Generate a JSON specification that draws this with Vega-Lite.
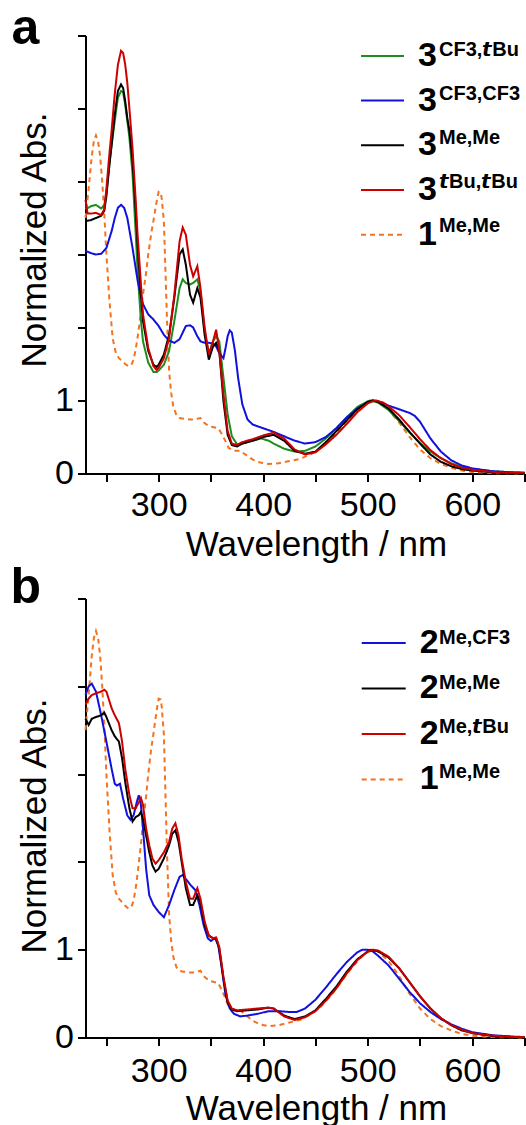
{
  "$schema": "https://vega.github.io/schema/vega-lite/v6.json",
  "background": "white",
  "padding": {"left": 10.5, "top": 3.5, "right": 0, "bottom": 0},
  "bounds": "flush",
  "spacing": 125,
  "config": {
    "font": "Liberation Sans",
    "view": {"stroke": null},
    "axis": {"domainColor": "#000", "domainWidth": 2, "tickColor": "#000", "tickWidth": 2, "tickSize": 8, "grid": false, "labelFont": "Liberation Sans", "labelFontSize": 34, "labelColor": "#000", "titleFont": "Liberation Sans", "titleFontSize": 35, "titleFontWeight": "normal", "titleColor": "#000", "labelOverlap": false, "labelFlush": false}
  },
  "resolve": {
    "scale": {"color": "independent", "strokeDash": "independent", "shape": "independent"},
    "legend": {"color": "independent", "strokeDash": "independent", "shape": "independent"}
  },
  "datasets": {
    "a": [
      {"series":"3CF3,tBu","nm":230,"abs":3.62},{"series":"3CF3,tBu","nm":235,"abs":3.66},{"series":"3CF3,tBu","nm":240,"abs":3.68},{"series":"3CF3,tBu","nm":245,"abs":3.63},{"series":"3CF3,tBu","nm":248,"abs":3.68},{"series":"3CF3,tBu","nm":250,"abs":3.85},{"series":"3CF3,tBu","nm":253,"abs":4.25},{"series":"3CF3,tBu","nm":255,"abs":4.5},{"series":"3CF3,tBu","nm":258,"abs":4.83},{"series":"3CF3,tBu","nm":261,"abs":5.15},{"series":"3CF3,tBu","nm":264,"abs":5.24},{"series":"3CF3,tBu","nm":266,"abs":5.22},{"series":"3CF3,tBu","nm":268,"abs":5.05},{"series":"3CF3,tBu","nm":270,"abs":4.83},{"series":"3CF3,tBu","nm":272,"abs":4.6},{"series":"3CF3,tBu","nm":275,"abs":4.1},{"series":"3CF3,tBu","nm":278,"abs":3.3},{"series":"3CF3,tBu","nm":280,"abs":2.73},{"series":"3CF3,tBu","nm":283,"abs":2.1},{"series":"3CF3,tBu","nm":285,"abs":1.81},{"series":"3CF3,tBu","nm":290,"abs":1.52},{"series":"3CF3,tBu","nm":295,"abs":1.39},{"series":"3CF3,tBu","nm":298,"abs":1.39},{"series":"3CF3,tBu","nm":300,"abs":1.41},{"series":"3CF3,tBu","nm":305,"abs":1.49},{"series":"3CF3,tBu","nm":310,"abs":1.68},{"series":"3CF3,tBu","nm":315,"abs":2.09},{"series":"3CF3,tBu","nm":320,"abs":2.54},{"series":"3CF3,tBu","nm":323,"abs":2.66},{"series":"3CF3,tBu","nm":326,"abs":2.61},{"series":"3CF3,tBu","nm":330,"abs":2.59},{"series":"3CF3,tBu","nm":333,"abs":2.61},{"series":"3CF3,tBu","nm":337,"abs":2.66},{"series":"3CF3,tBu","nm":340,"abs":2.5},{"series":"3CF3,tBu","nm":344,"abs":1.95},{"series":"3CF3,tBu","nm":348,"abs":1.63},{"series":"3CF3,tBu","nm":352,"abs":1.81},{"series":"3CF3,tBu","nm":355,"abs":1.88},{"series":"3CF3,tBu","nm":358,"abs":1.81},{"series":"3CF3,tBu","nm":362,"abs":1.31},{"series":"3CF3,tBu","nm":366,"abs":0.81},{"series":"3CF3,tBu","nm":370,"abs":0.51},{"series":"3CF3,tBu","nm":375,"abs":0.4},{"series":"3CF3,tBu","nm":380,"abs":0.41},{"series":"3CF3,tBu","nm":390,"abs":0.45},{"series":"3CF3,tBu","nm":398,"abs":0.48},{"series":"3CF3,tBu","nm":405,"abs":0.45},{"series":"3CF3,tBu","nm":410,"abs":0.41},{"series":"3CF3,tBu","nm":420,"abs":0.34},{"series":"3CF3,tBu","nm":430,"abs":0.3},{"series":"3CF3,tBu","nm":440,"abs":0.31},{"series":"3CF3,tBu","nm":450,"abs":0.37},{"series":"3CF3,tBu","nm":460,"abs":0.48},{"series":"3CF3,tBu","nm":470,"abs":0.62},{"series":"3CF3,tBu","nm":480,"abs":0.77},{"series":"3CF3,tBu","nm":490,"abs":0.91},{"series":"3CF3,tBu","nm":500,"abs":0.99},{"series":"3CF3,tBu","nm":503,"abs":1.0},{"series":"3CF3,tBu","nm":510,"abs":0.97},{"series":"3CF3,tBu","nm":520,"abs":0.87},{"series":"3CF3,tBu","nm":530,"abs":0.72},{"series":"3CF3,tBu","nm":540,"abs":0.56},{"series":"3CF3,tBu","nm":550,"abs":0.42},{"series":"3CF3,tBu","nm":560,"abs":0.3},{"series":"3CF3,tBu","nm":570,"abs":0.21},{"series":"3CF3,tBu","nm":580,"abs":0.14},{"series":"3CF3,tBu","nm":590,"abs":0.09},{"series":"3CF3,tBu","nm":600,"abs":0.06},{"series":"3CF3,tBu","nm":620,"abs":0.03},{"series":"3CF3,tBu","nm":640,"abs":0.015},{"series":"3CF3,tBu","nm":650,"abs":0.01},
      {"series":"3CF3,CF3","nm":230,"abs":3.05},{"series":"3CF3,CF3","nm":235,"abs":3.02},{"series":"3CF3,CF3","nm":240,"abs":3.0},{"series":"3CF3,CF3","nm":245,"abs":3.01},{"series":"3CF3,CF3","nm":250,"abs":3.09},{"series":"3CF3,CF3","nm":255,"abs":3.32},{"series":"3CF3,CF3","nm":258,"abs":3.5},{"series":"3CF3,CF3","nm":261,"abs":3.64},{"series":"3CF3,CF3","nm":264,"abs":3.68},{"series":"3CF3,CF3","nm":267,"abs":3.64},{"series":"3CF3,CF3","nm":270,"abs":3.5},{"series":"3CF3,CF3","nm":275,"abs":3.09},{"series":"3CF3,CF3","nm":280,"abs":2.63},{"series":"3CF3,CF3","nm":285,"abs":2.32},{"series":"3CF3,CF3","nm":290,"abs":2.18},{"series":"3CF3,CF3","nm":295,"abs":2.11},{"series":"3CF3,CF3","nm":300,"abs":2.02},{"series":"3CF3,CF3","nm":305,"abs":1.9},{"series":"3CF3,CF3","nm":310,"abs":1.82},{"series":"3CF3,CF3","nm":315,"abs":1.79},{"series":"3CF3,CF3","nm":320,"abs":1.84},{"series":"3CF3,CF3","nm":323,"abs":1.93},{"series":"3CF3,CF3","nm":326,"abs":2.02},{"series":"3CF3,CF3","nm":330,"abs":2.03},{"series":"3CF3,CF3","nm":333,"abs":2.0},{"series":"3CF3,CF3","nm":337,"abs":1.88},{"series":"3CF3,CF3","nm":340,"abs":1.81},{"series":"3CF3,CF3","nm":344,"abs":1.79},{"series":"3CF3,CF3","nm":348,"abs":1.79},{"series":"3CF3,CF3","nm":352,"abs":1.78},{"series":"3CF3,CF3","nm":355,"abs":1.74},{"series":"3CF3,CF3","nm":358,"abs":1.65},{"series":"3CF3,CF3","nm":362,"abs":1.58},{"series":"3CF3,CF3","nm":364,"abs":1.72},{"series":"3CF3,CF3","nm":366,"abs":1.88},{"series":"3CF3,CF3","nm":368,"abs":1.96},{"series":"3CF3,CF3","nm":370,"abs":1.93},{"series":"3CF3,CF3","nm":373,"abs":1.68},{"series":"3CF3,CF3","nm":376,"abs":1.31},{"series":"3CF3,CF3","nm":380,"abs":0.95},{"series":"3CF3,CF3","nm":385,"abs":0.74},{"series":"3CF3,CF3","nm":390,"abs":0.67},{"series":"3CF3,CF3","nm":400,"abs":0.62},{"series":"3CF3,CF3","nm":410,"abs":0.57},{"series":"3CF3,CF3","nm":420,"abs":0.51},{"series":"3CF3,CF3","nm":430,"abs":0.45},{"series":"3CF3,CF3","nm":440,"abs":0.41},{"series":"3CF3,CF3","nm":450,"abs":0.43},{"series":"3CF3,CF3","nm":460,"abs":0.5},{"series":"3CF3,CF3","nm":470,"abs":0.62},{"series":"3CF3,CF3","nm":480,"abs":0.77},{"series":"3CF3,CF3","nm":490,"abs":0.89},{"series":"3CF3,CF3","nm":500,"abs":0.97},{"series":"3CF3,CF3","nm":505,"abs":1.0},{"series":"3CF3,CF3","nm":510,"abs":0.99},{"series":"3CF3,CF3","nm":520,"abs":0.93},{"series":"3CF3,CF3","nm":530,"abs":0.88},{"series":"3CF3,CF3","nm":540,"abs":0.83},{"series":"3CF3,CF3","nm":545,"abs":0.79},{"series":"3CF3,CF3","nm":550,"abs":0.71},{"series":"3CF3,CF3","nm":560,"abs":0.48},{"series":"3CF3,CF3","nm":570,"abs":0.3},{"series":"3CF3,CF3","nm":580,"abs":0.18},{"series":"3CF3,CF3","nm":590,"abs":0.11},{"series":"3CF3,CF3","nm":600,"abs":0.07},{"series":"3CF3,CF3","nm":620,"abs":0.03},{"series":"3CF3,CF3","nm":640,"abs":0.015},{"series":"3CF3,CF3","nm":650,"abs":0.01},
      {"series":"3Me,Me","nm":230,"abs":3.46},{"series":"3Me,Me","nm":235,"abs":3.47},{"series":"3Me,Me","nm":240,"abs":3.5},{"series":"3Me,Me","nm":245,"abs":3.53},{"series":"3Me,Me","nm":248,"abs":3.6},{"series":"3Me,Me","nm":250,"abs":3.8},{"series":"3Me,Me","nm":253,"abs":4.25},{"series":"3Me,Me","nm":255,"abs":4.5},{"series":"3Me,Me","nm":258,"abs":4.92},{"series":"3Me,Me","nm":261,"abs":5.24},{"series":"3Me,Me","nm":264,"abs":5.33},{"series":"3Me,Me","nm":266,"abs":5.28},{"series":"3Me,Me","nm":268,"abs":5.1},{"series":"3Me,Me","nm":270,"abs":4.87},{"series":"3Me,Me","nm":272,"abs":4.7},{"series":"3Me,Me","nm":275,"abs":4.28},{"series":"3Me,Me","nm":278,"abs":3.6},{"series":"3Me,Me","nm":280,"abs":3.09},{"series":"3Me,Me","nm":283,"abs":2.45},{"series":"3Me,Me","nm":285,"abs":2.09},{"series":"3Me,Me","nm":290,"abs":1.68},{"series":"3Me,Me","nm":295,"abs":1.49},{"series":"3Me,Me","nm":298,"abs":1.46},{"series":"3Me,Me","nm":300,"abs":1.49},{"series":"3Me,Me","nm":305,"abs":1.63},{"series":"3Me,Me","nm":310,"abs":1.9},{"series":"3Me,Me","nm":315,"abs":2.41},{"series":"3Me,Me","nm":320,"abs":3.0},{"series":"3Me,Me","nm":323,"abs":3.07},{"series":"3Me,Me","nm":326,"abs":2.86},{"series":"3Me,Me","nm":330,"abs":2.45},{"series":"3Me,Me","nm":333,"abs":2.34},{"series":"3Me,Me","nm":337,"abs":2.54},{"series":"3Me,Me","nm":340,"abs":2.41},{"series":"3Me,Me","nm":344,"abs":1.9},{"series":"3Me,Me","nm":348,"abs":1.56},{"series":"3Me,Me","nm":352,"abs":1.74},{"series":"3Me,Me","nm":355,"abs":1.79},{"series":"3Me,Me","nm":358,"abs":1.68},{"series":"3Me,Me","nm":362,"abs":0.99},{"series":"3Me,Me","nm":366,"abs":0.53},{"series":"3Me,Me","nm":370,"abs":0.39},{"series":"3Me,Me","nm":375,"abs":0.37},{"series":"3Me,Me","nm":380,"abs":0.41},{"series":"3Me,Me","nm":390,"abs":0.45},{"series":"3Me,Me","nm":400,"abs":0.5},{"series":"3Me,Me","nm":410,"abs":0.53},{"series":"3Me,Me","nm":420,"abs":0.45},{"series":"3Me,Me","nm":430,"abs":0.31},{"series":"3Me,Me","nm":440,"abs":0.27},{"series":"3Me,Me","nm":450,"abs":0.3},{"series":"3Me,Me","nm":460,"abs":0.43},{"series":"3Me,Me","nm":470,"abs":0.58},{"series":"3Me,Me","nm":480,"abs":0.73},{"series":"3Me,Me","nm":490,"abs":0.88},{"series":"3Me,Me","nm":500,"abs":0.98},{"series":"3Me,Me","nm":505,"abs":1.0},{"series":"3Me,Me","nm":510,"abs":0.98},{"series":"3Me,Me","nm":520,"abs":0.89},{"series":"3Me,Me","nm":530,"abs":0.74},{"series":"3Me,Me","nm":540,"abs":0.57},{"series":"3Me,Me","nm":550,"abs":0.41},{"series":"3Me,Me","nm":560,"abs":0.26},{"series":"3Me,Me","nm":570,"abs":0.16},{"series":"3Me,Me","nm":580,"abs":0.1},{"series":"3Me,Me","nm":590,"abs":0.06},{"series":"3Me,Me","nm":600,"abs":0.04},{"series":"3Me,Me","nm":620,"abs":0.015},{"series":"3Me,Me","nm":640,"abs":0.005},{"series":"3Me,Me","nm":650,"abs":0.005},
      {"series":"3tBu,tBu","nm":230,"abs":3.75},{"series":"3tBu,tBu","nm":232,"abs":3.56},{"series":"3tBu,tBu","nm":235,"abs":3.56},{"series":"3tBu,tBu","nm":240,"abs":3.57},{"series":"3tBu,tBu","nm":245,"abs":3.54},{"series":"3tBu,tBu","nm":248,"abs":3.62},{"series":"3tBu,tBu","nm":250,"abs":3.9},{"series":"3tBu,tBu","nm":253,"abs":4.4},{"series":"3tBu,tBu","nm":255,"abs":4.7},{"series":"3tBu,tBu","nm":258,"abs":5.2},{"series":"3tBu,tBu","nm":261,"abs":5.6},{"series":"3tBu,tBu","nm":264,"abs":5.79},{"series":"3tBu,tBu","nm":266,"abs":5.76},{"series":"3tBu,tBu","nm":268,"abs":5.6},{"series":"3tBu,tBu","nm":270,"abs":5.35},{"series":"3tBu,tBu","nm":272,"abs":5.0},{"series":"3tBu,tBu","nm":275,"abs":4.45},{"series":"3tBu,tBu","nm":278,"abs":3.75},{"series":"3tBu,tBu","nm":280,"abs":3.23},{"series":"3tBu,tBu","nm":283,"abs":2.6},{"series":"3tBu,tBu","nm":285,"abs":2.18},{"series":"3tBu,tBu","nm":290,"abs":1.72},{"series":"3tBu,tBu","nm":295,"abs":1.47},{"series":"3tBu,tBu","nm":298,"abs":1.42},{"series":"3tBu,tBu","nm":300,"abs":1.45},{"series":"3tBu,tBu","nm":305,"abs":1.58},{"series":"3tBu,tBu","nm":310,"abs":1.86},{"series":"3tBu,tBu","nm":315,"abs":2.45},{"series":"3tBu,tBu","nm":320,"abs":3.18},{"series":"3tBu,tBu","nm":323,"abs":3.37},{"series":"3tBu,tBu","nm":326,"abs":3.27},{"series":"3tBu,tBu","nm":330,"abs":2.86},{"series":"3tBu,tBu","nm":333,"abs":2.7},{"series":"3tBu,tBu","nm":337,"abs":2.84},{"series":"3tBu,tBu","nm":340,"abs":2.54},{"series":"3tBu,tBu","nm":344,"abs":2.0},{"series":"3tBu,tBu","nm":348,"abs":1.63},{"series":"3tBu,tBu","nm":352,"abs":1.81},{"series":"3tBu,tBu","nm":355,"abs":1.97},{"series":"3tBu,tBu","nm":358,"abs":1.68},{"series":"3tBu,tBu","nm":362,"abs":1.08},{"series":"3tBu,tBu","nm":366,"abs":0.58},{"series":"3tBu,tBu","nm":370,"abs":0.41},{"series":"3tBu,tBu","nm":375,"abs":0.39},{"series":"3tBu,tBu","nm":380,"abs":0.43},{"series":"3tBu,tBu","nm":390,"abs":0.47},{"series":"3tBu,tBu","nm":400,"abs":0.52},{"series":"3tBu,tBu","nm":410,"abs":0.56},{"series":"3tBu,tBu","nm":420,"abs":0.48},{"series":"3tBu,tBu","nm":430,"abs":0.33},{"series":"3tBu,tBu","nm":440,"abs":0.26},{"series":"3tBu,tBu","nm":450,"abs":0.29},{"series":"3tBu,tBu","nm":460,"abs":0.4},{"series":"3tBu,tBu","nm":470,"abs":0.53},{"series":"3tBu,tBu","nm":480,"abs":0.68},{"series":"3tBu,tBu","nm":490,"abs":0.84},{"series":"3tBu,tBu","nm":500,"abs":0.96},{"series":"3tBu,tBu","nm":505,"abs":0.99},{"series":"3tBu,tBu","nm":508,"abs":1.0},{"series":"3tBu,tBu","nm":515,"abs":0.97},{"series":"3tBu,tBu","nm":520,"abs":0.92},{"series":"3tBu,tBu","nm":530,"abs":0.8},{"series":"3tBu,tBu","nm":540,"abs":0.64},{"series":"3tBu,tBu","nm":550,"abs":0.47},{"series":"3tBu,tBu","nm":560,"abs":0.32},{"series":"3tBu,tBu","nm":570,"abs":0.21},{"series":"3tBu,tBu","nm":580,"abs":0.13},{"series":"3tBu,tBu","nm":590,"abs":0.08},{"series":"3tBu,tBu","nm":600,"abs":0.05},{"series":"3tBu,tBu","nm":620,"abs":0.02},{"series":"3tBu,tBu","nm":640,"abs":0.01},{"series":"3tBu,tBu","nm":650,"abs":0.01}
    ],
    "b": [
      {"series":"2Me,CF3","nm":230,"abs":3.9},{"series":"2Me,CF3","nm":233,"abs":4.0},{"series":"2Me,CF3","nm":236,"abs":4.03},{"series":"2Me,CF3","nm":240,"abs":3.94},{"series":"2Me,CF3","nm":245,"abs":3.67},{"series":"2Me,CF3","nm":250,"abs":3.37},{"series":"2Me,CF3","nm":255,"abs":3.06},{"series":"2Me,CF3","nm":258,"abs":2.89},{"series":"2Me,CF3","nm":260,"abs":2.87},{"series":"2Me,CF3","nm":263,"abs":2.89},{"series":"2Me,CF3","nm":266,"abs":2.72},{"series":"2Me,CF3","nm":270,"abs":2.53},{"series":"2Me,CF3","nm":273,"abs":2.48},{"series":"2Me,CF3","nm":276,"abs":2.53},{"series":"2Me,CF3","nm":279,"abs":2.68},{"series":"2Me,CF3","nm":281,"abs":2.76},{"series":"2Me,CF3","nm":283,"abs":2.65},{"series":"2Me,CF3","nm":285,"abs":2.38},{"series":"2Me,CF3","nm":288,"abs":1.92},{"series":"2Me,CF3","nm":291,"abs":1.62},{"series":"2Me,CF3","nm":295,"abs":1.51},{"series":"2Me,CF3","nm":300,"abs":1.43},{"series":"2Me,CF3","nm":305,"abs":1.37},{"series":"2Me,CF3","nm":310,"abs":1.51},{"series":"2Me,CF3","nm":315,"abs":1.68},{"series":"2Me,CF3","nm":320,"abs":1.83},{"series":"2Me,CF3","nm":323,"abs":1.85},{"series":"2Me,CF3","nm":327,"abs":1.79},{"series":"2Me,CF3","nm":331,"abs":1.73},{"series":"2Me,CF3","nm":335,"abs":1.68},{"series":"2Me,CF3","nm":339,"abs":1.51},{"series":"2Me,CF3","nm":343,"abs":1.28},{"series":"2Me,CF3","nm":347,"abs":1.13},{"series":"2Me,CF3","nm":350,"abs":1.1},{"series":"2Me,CF3","nm":354,"abs":1.13},{"series":"2Me,CF3","nm":357,"abs":1.05},{"series":"2Me,CF3","nm":360,"abs":0.82},{"series":"2Me,CF3","nm":364,"abs":0.48},{"series":"2Me,CF3","nm":368,"abs":0.33},{"series":"2Me,CF3","nm":372,"abs":0.27},{"series":"2Me,CF3","nm":378,"abs":0.24},{"series":"2Me,CF3","nm":385,"abs":0.25},{"series":"2Me,CF3","nm":395,"abs":0.27},{"series":"2Me,CF3","nm":405,"abs":0.3},{"series":"2Me,CF3","nm":415,"abs":0.3},{"series":"2Me,CF3","nm":425,"abs":0.29},{"series":"2Me,CF3","nm":432,"abs":0.29},{"series":"2Me,CF3","nm":440,"abs":0.33},{"series":"2Me,CF3","nm":450,"abs":0.43},{"series":"2Me,CF3","nm":460,"abs":0.57},{"series":"2Me,CF3","nm":470,"abs":0.72},{"series":"2Me,CF3","nm":480,"abs":0.86},{"series":"2Me,CF3","nm":490,"abs":0.97},{"series":"2Me,CF3","nm":495,"abs":1.0},{"series":"2Me,CF3","nm":500,"abs":1.0},{"series":"2Me,CF3","nm":505,"abs":0.98},{"series":"2Me,CF3","nm":510,"abs":0.93},{"series":"2Me,CF3","nm":520,"abs":0.82},{"series":"2Me,CF3","nm":530,"abs":0.67},{"series":"2Me,CF3","nm":540,"abs":0.52},{"series":"2Me,CF3","nm":550,"abs":0.39},{"series":"2Me,CF3","nm":560,"abs":0.29},{"series":"2Me,CF3","nm":570,"abs":0.21},{"series":"2Me,CF3","nm":580,"abs":0.15},{"series":"2Me,CF3","nm":590,"abs":0.1},{"series":"2Me,CF3","nm":600,"abs":0.06},{"series":"2Me,CF3","nm":620,"abs":0.025},{"series":"2Me,CF3","nm":640,"abs":0.01},{"series":"2Me,CF3","nm":650,"abs":0.005},
      {"series":"2Me,Me","nm":230,"abs":3.63},{"series":"2Me,Me","nm":233,"abs":3.56},{"series":"2Me,Me","nm":236,"abs":3.63},{"series":"2Me,Me","nm":240,"abs":3.65},{"series":"2Me,Me","nm":245,"abs":3.67},{"series":"2Me,Me","nm":248,"abs":3.7},{"series":"2Me,Me","nm":250,"abs":3.65},{"series":"2Me,Me","nm":255,"abs":3.5},{"series":"2Me,Me","nm":258,"abs":3.43},{"series":"2Me,Me","nm":262,"abs":3.37},{"series":"2Me,Me","nm":265,"abs":3.18},{"series":"2Me,Me","nm":268,"abs":2.91},{"series":"2Me,Me","nm":272,"abs":2.61},{"series":"2Me,Me","nm":275,"abs":2.46},{"series":"2Me,Me","nm":278,"abs":2.51},{"series":"2Me,Me","nm":281,"abs":2.53},{"series":"2Me,Me","nm":283,"abs":2.57},{"series":"2Me,Me","nm":285,"abs":2.49},{"series":"2Me,Me","nm":288,"abs":2.3},{"series":"2Me,Me","nm":291,"abs":2.11},{"series":"2Me,Me","nm":294,"abs":1.96},{"series":"2Me,Me","nm":297,"abs":1.89},{"series":"2Me,Me","nm":300,"abs":1.92},{"series":"2Me,Me","nm":305,"abs":2.04},{"series":"2Me,Me","nm":310,"abs":2.19},{"series":"2Me,Me","nm":313,"abs":2.32},{"series":"2Me,Me","nm":316,"abs":2.36},{"series":"2Me,Me","nm":319,"abs":2.23},{"series":"2Me,Me","nm":322,"abs":2.0},{"series":"2Me,Me","nm":326,"abs":1.7},{"series":"2Me,Me","nm":330,"abs":1.51},{"series":"2Me,Me","nm":333,"abs":1.51},{"series":"2Me,Me","nm":337,"abs":1.62},{"series":"2Me,Me","nm":340,"abs":1.54},{"series":"2Me,Me","nm":344,"abs":1.28},{"series":"2Me,Me","nm":348,"abs":1.16},{"series":"2Me,Me","nm":352,"abs":1.13},{"series":"2Me,Me","nm":355,"abs":1.13},{"series":"2Me,Me","nm":358,"abs":1.01},{"series":"2Me,Me","nm":362,"abs":0.67},{"series":"2Me,Me","nm":366,"abs":0.4},{"series":"2Me,Me","nm":370,"abs":0.32},{"series":"2Me,Me","nm":375,"abs":0.3},{"series":"2Me,Me","nm":385,"abs":0.31},{"series":"2Me,Me","nm":395,"abs":0.32},{"series":"2Me,Me","nm":405,"abs":0.34},{"series":"2Me,Me","nm":410,"abs":0.33},{"series":"2Me,Me","nm":420,"abs":0.25},{"series":"2Me,Me","nm":430,"abs":0.21},{"series":"2Me,Me","nm":440,"abs":0.24},{"series":"2Me,Me","nm":450,"abs":0.31},{"series":"2Me,Me","nm":460,"abs":0.44},{"series":"2Me,Me","nm":470,"abs":0.58},{"series":"2Me,Me","nm":480,"abs":0.75},{"series":"2Me,Me","nm":490,"abs":0.89},{"series":"2Me,Me","nm":500,"abs":0.98},{"series":"2Me,Me","nm":503,"abs":1.0},{"series":"2Me,Me","nm":510,"abs":0.98},{"series":"2Me,Me","nm":520,"abs":0.91},{"series":"2Me,Me","nm":530,"abs":0.79},{"series":"2Me,Me","nm":540,"abs":0.63},{"series":"2Me,Me","nm":550,"abs":0.47},{"series":"2Me,Me","nm":560,"abs":0.33},{"series":"2Me,Me","nm":570,"abs":0.22},{"series":"2Me,Me","nm":580,"abs":0.14},{"series":"2Me,Me","nm":590,"abs":0.08},{"series":"2Me,Me","nm":600,"abs":0.05},{"series":"2Me,Me","nm":620,"abs":0.015},{"series":"2Me,Me","nm":640,"abs":0.005},{"series":"2Me,Me","nm":650,"abs":0.005},
      {"series":"2Me,tBu","nm":230,"abs":3.79},{"series":"2Me,tBu","nm":233,"abs":3.86},{"series":"2Me,tBu","nm":236,"abs":3.9},{"series":"2Me,tBu","nm":240,"abs":3.92},{"series":"2Me,tBu","nm":245,"abs":3.94},{"series":"2Me,tBu","nm":248,"abs":3.96},{"series":"2Me,tBu","nm":250,"abs":3.94},{"series":"2Me,tBu","nm":255,"abs":3.75},{"series":"2Me,tBu","nm":258,"abs":3.67},{"series":"2Me,tBu","nm":262,"abs":3.58},{"series":"2Me,tBu","nm":265,"abs":3.37},{"series":"2Me,tBu","nm":268,"abs":3.06},{"series":"2Me,tBu","nm":272,"abs":2.76},{"series":"2Me,tBu","nm":275,"abs":2.61},{"series":"2Me,tBu","nm":278,"abs":2.61},{"series":"2Me,tBu","nm":281,"abs":2.68},{"series":"2Me,tBu","nm":283,"abs":2.73},{"series":"2Me,tBu","nm":285,"abs":2.65},{"series":"2Me,tBu","nm":288,"abs":2.38},{"series":"2Me,tBu","nm":291,"abs":2.19},{"series":"2Me,tBu","nm":294,"abs":2.04},{"series":"2Me,tBu","nm":297,"abs":1.98},{"series":"2Me,tBu","nm":300,"abs":2.02},{"series":"2Me,tBu","nm":305,"abs":2.11},{"series":"2Me,tBu","nm":310,"abs":2.23},{"series":"2Me,tBu","nm":313,"abs":2.38},{"series":"2Me,tBu","nm":316,"abs":2.44},{"series":"2Me,tBu","nm":319,"abs":2.3},{"series":"2Me,tBu","nm":322,"abs":2.04},{"series":"2Me,tBu","nm":326,"abs":1.77},{"series":"2Me,tBu","nm":330,"abs":1.58},{"series":"2Me,tBu","nm":333,"abs":1.58},{"series":"2Me,tBu","nm":337,"abs":1.7},{"series":"2Me,tBu","nm":340,"abs":1.58},{"series":"2Me,tBu","nm":344,"abs":1.32},{"series":"2Me,tBu","nm":348,"abs":1.16},{"series":"2Me,tBu","nm":352,"abs":1.13},{"series":"2Me,tBu","nm":355,"abs":1.14},{"series":"2Me,tBu","nm":358,"abs":1.03},{"series":"2Me,tBu","nm":362,"abs":0.69},{"series":"2Me,tBu","nm":366,"abs":0.42},{"series":"2Me,tBu","nm":370,"abs":0.33},{"series":"2Me,tBu","nm":375,"abs":0.31},{"series":"2Me,tBu","nm":385,"abs":0.32},{"series":"2Me,tBu","nm":395,"abs":0.33},{"series":"2Me,tBu","nm":405,"abs":0.34},{"series":"2Me,tBu","nm":410,"abs":0.33},{"series":"2Me,tBu","nm":420,"abs":0.24},{"series":"2Me,tBu","nm":430,"abs":0.2},{"series":"2Me,tBu","nm":440,"abs":0.23},{"series":"2Me,tBu","nm":450,"abs":0.3},{"series":"2Me,tBu","nm":460,"abs":0.42},{"series":"2Me,tBu","nm":470,"abs":0.56},{"series":"2Me,tBu","nm":480,"abs":0.73},{"series":"2Me,tBu","nm":490,"abs":0.88},{"series":"2Me,tBu","nm":500,"abs":0.98},{"series":"2Me,tBu","nm":505,"abs":1.0},{"series":"2Me,tBu","nm":510,"abs":0.99},{"series":"2Me,tBu","nm":520,"abs":0.92},{"series":"2Me,tBu","nm":530,"abs":0.79},{"series":"2Me,tBu","nm":540,"abs":0.63},{"series":"2Me,tBu","nm":550,"abs":0.47},{"series":"2Me,tBu","nm":560,"abs":0.33},{"series":"2Me,tBu","nm":570,"abs":0.22},{"series":"2Me,tBu","nm":580,"abs":0.14},{"series":"2Me,tBu","nm":590,"abs":0.09},{"series":"2Me,tBu","nm":600,"abs":0.05},{"series":"2Me,tBu","nm":620,"abs":0.02},{"series":"2Me,tBu","nm":640,"abs":0.005},{"series":"2Me,tBu","nm":650,"abs":0.005}
    ],
    "ref": [
      {"series":"1Me,Me","nm":230,"abs":3.5},{"series":"1Me,Me","nm":233,"abs":3.9},{"series":"1Me,Me","nm":236,"abs":4.35},{"series":"1Me,Me","nm":238,"abs":4.55},{"series":"1Me,Me","nm":240,"abs":4.63},{"series":"1Me,Me","nm":242,"abs":4.55},{"series":"1Me,Me","nm":244,"abs":4.35},{"series":"1Me,Me","nm":246,"abs":4.0},{"series":"1Me,Me","nm":248,"abs":3.55},{"series":"1Me,Me","nm":250,"abs":3.0},{"series":"1Me,Me","nm":253,"abs":2.35},{"series":"1Me,Me","nm":256,"abs":1.85},{"series":"1Me,Me","nm":259,"abs":1.65},{"series":"1Me,Me","nm":262,"abs":1.58},{"series":"1Me,Me","nm":265,"abs":1.54},{"series":"1Me,Me","nm":268,"abs":1.5},{"series":"1Me,Me","nm":271,"abs":1.47},{"series":"1Me,Me","nm":274,"abs":1.49},{"series":"1Me,Me","nm":276,"abs":1.56},{"series":"1Me,Me","nm":278,"abs":1.7},{"series":"1Me,Me","nm":280,"abs":1.88},{"series":"1Me,Me","nm":283,"abs":2.2},{"series":"1Me,Me","nm":285,"abs":2.45},{"series":"1Me,Me","nm":288,"abs":2.75},{"series":"1Me,Me","nm":290,"abs":3.0},{"series":"1Me,Me","nm":293,"abs":3.3},{"series":"1Me,Me","nm":295,"abs":3.46},{"series":"1Me,Me","nm":298,"abs":3.72},{"series":"1Me,Me","nm":300,"abs":3.86},{"series":"1Me,Me","nm":302,"abs":3.85},{"series":"1Me,Me","nm":303,"abs":3.76},{"series":"1Me,Me","nm":305,"abs":3.45},{"series":"1Me,Me","nm":306,"abs":3.0},{"series":"1Me,Me","nm":308,"abs":2.09},{"series":"1Me,Me","nm":310,"abs":1.4},{"series":"1Me,Me","nm":312,"abs":1.1},{"series":"1Me,Me","nm":314,"abs":0.92},{"series":"1Me,Me","nm":317,"abs":0.8},{"series":"1Me,Me","nm":320,"abs":0.76},{"series":"1Me,Me","nm":324,"abs":0.75},{"series":"1Me,Me","nm":330,"abs":0.74},{"series":"1Me,Me","nm":334,"abs":0.74},{"series":"1Me,Me","nm":337,"abs":0.75},{"series":"1Me,Me","nm":340,"abs":0.76},{"series":"1Me,Me","nm":343,"abs":0.7},{"series":"1Me,Me","nm":346,"abs":0.67},{"series":"1Me,Me","nm":350,"abs":0.64},{"series":"1Me,Me","nm":354,"abs":0.63},{"series":"1Me,Me","nm":357,"abs":0.62},{"series":"1Me,Me","nm":360,"abs":0.55},{"series":"1Me,Me","nm":363,"abs":0.47},{"series":"1Me,Me","nm":367,"abs":0.35},{"series":"1Me,Me","nm":372,"abs":0.31},{"series":"1Me,Me","nm":378,"abs":0.31},{"series":"1Me,Me","nm":385,"abs":0.24},{"series":"1Me,Me","nm":390,"abs":0.19},{"series":"1Me,Me","nm":397,"abs":0.15},{"series":"1Me,Me","nm":405,"abs":0.13},{"series":"1Me,Me","nm":415,"abs":0.14},{"series":"1Me,Me","nm":425,"abs":0.17},{"series":"1Me,Me","nm":435,"abs":0.2},{"series":"1Me,Me","nm":445,"abs":0.26},{"series":"1Me,Me","nm":455,"abs":0.35},{"series":"1Me,Me","nm":465,"abs":0.48},{"series":"1Me,Me","nm":475,"abs":0.64},{"series":"1Me,Me","nm":485,"abs":0.8},{"series":"1Me,Me","nm":495,"abs":0.93},{"series":"1Me,Me","nm":500,"abs":0.97},{"series":"1Me,Me","nm":505,"abs":1.0},{"series":"1Me,Me","nm":510,"abs":0.98},{"series":"1Me,Me","nm":520,"abs":0.87},{"series":"1Me,Me","nm":530,"abs":0.7},{"series":"1Me,Me","nm":540,"abs":0.5},{"series":"1Me,Me","nm":550,"abs":0.33},{"series":"1Me,Me","nm":560,"abs":0.21},{"series":"1Me,Me","nm":570,"abs":0.13},{"series":"1Me,Me","nm":580,"abs":0.08},{"series":"1Me,Me","nm":590,"abs":0.04},{"series":"1Me,Me","nm":600,"abs":0.02},{"series":"1Me,Me","nm":620,"abs":0.005},{"series":"1Me,Me","nm":650,"abs":0}
    ]
  },
  "vconcat": [
    {
      "width": 439,
      "height": 438,
      "title": {"text": "a", "anchor": "start", "frame": "group", "font": "Liberation Sans", "fontSize": 50, "fontWeight": "bold", "color": "#000", "baseline": "alphabetic", "offset": -75, "dx": -74},
      "layer": [
        {
          "encoding": {
            "x": {"field": "nm", "type": "quantitative", "scale": {"domain": [230, 650], "nice": false, "zero": false},
              "axis": {"values": [250, 300, 350, 400, 450, 500, 550, 600, 650], "labelExpr": "datum.value % 100 == 0 ? datum.label : ''", "labelPadding": 7, "title": "Wavelength / nm", "titleX": 230.5, "titleY": 82, "titleBaseline": "alphabetic", "titleAlign": "center"}},
            "y": {"field": "abs", "type": "quantitative", "scale": {"domain": [0, 6], "nice": false},
              "axis": {"values": [0, 1, 2, 3, 4, 5, 6], "labelExpr": "datum.value <= 1 ? datum.label : ''", "labelPadding": 4, "title": "Normalized Abs.", "titleX": -40, "titleY": 204, "titleAngle": 270, "titleBaseline": "alphabetic", "titleAlign": "center"}},
            "color": {"field": "series", "type": "nominal",
              "scale": {"domain": ["3CF3,tBu", "3CF3,CF3", "3Me,Me", "3tBu,tBu", "1Me,Me"], "range": ["#1e8c1e", "#1111dd", "#000000", "#cc0000", "#f47320"]},
              "legend": {"title": null, "orient": "none", "legendX": 274.5, "legendY": -2.1, "padding": 0, "symbolType": "stroke", "symbolSize": 1849, "symbolStrokeWidth": 2, "labelFont": "Liberation Sans", "labelFontSize": 34, "labelFontWeight": "bold", "labelOffset": 13, "rowPadding": 4.7, "labelExpr": "substring(datum.value, 0, 1)",
                "encode": {"labels": {"fill": {"condition": [{"test": "datum.value == '3CF3,tBu'", "value": "#1e8c1e"}, {"test": "datum.value == '3CF3,CF3'", "value": "#1111dd"}, {"test": "datum.value == '3tBu,tBu'", "value": "#cc0000"}, {"test": "datum.value == '1Me,Me'", "value": "#f47320"}], "value": "#000000"}}}}},
            "strokeDash": {"field": "series", "type": "nominal",
              "scale": {"domain": ["3CF3,tBu", "3CF3,CF3", "3Me,Me", "3tBu,tBu", "1Me,Me"], "range": [[1, 0], [1, 0], [1, 0], [1, 0], [5, 4]]}}
          },
          "layer": [
            {"data": {"name": "ref"}, "mark": {"type": "line", "strokeWidth": 2}},
            {"data": {"name": "a"}, "mark": {"type": "line", "strokeWidth": 2}}
          ]
        },
        {
          "data": {"values": [{"sup": "1 CF3,𝙩Bu"}, {"sup": "2 CF3,CF3"}, {"sup": "3 Me,Me"}, {"sup": "4 𝙩Bu,𝙩Bu"}, {"sup": "5 Me,Me"}]},
          "mark": {"type": "point", "opacity": 0},
          "encoding": {
            "shape": {"field": "sup", "type": "nominal",
              "legend": {"title": null, "orient": "none", "legendX": 333.5, "legendY": 4.1, "padding": 0, "symbolSize": 1, "symbolOpacity": 0, "symbolStrokeWidth": 0, "labelFont": "Liberation Sans", "labelFontSize": 20, "labelFontWeight": "bold", "labelOffset": 0, "rowPadding": 24.2, "labelExpr": "substring(datum.value, 2)",
                "encode": {"labels": {"fill": {"condition": [{"test": "substring(datum.value, 0, 1) == '1'", "value": "#1e8c1e"}, {"test": "substring(datum.value, 0, 1) == '2'", "value": "#1111dd"}, {"test": "substring(datum.value, 0, 1) == '4'", "value": "#cc0000"}, {"test": "substring(datum.value, 0, 1) == '5'", "value": "#f47320"}], "value": "#000000"}}}}}
          }
        }
      ]
    },
    {
      "width": 439,
      "height": 439,
      "title": {"text": "b", "anchor": "start", "frame": "group", "font": "Liberation Sans", "fontSize": 50, "fontWeight": "bold", "color": "#000", "baseline": "alphabetic", "offset": -71, "dx": -75},
      "layer": [
        {
          "encoding": {
            "x": {"field": "nm", "type": "quantitative", "scale": {"domain": [230, 650], "nice": false, "zero": false},
              "axis": {"values": [250, 300, 350, 400, 450, 500, 550, 600, 650], "labelExpr": "datum.value % 100 == 0 ? datum.label : ''", "labelPadding": 9, "title": "Wavelength / nm", "titleX": 230.5, "titleY": 82, "titleBaseline": "alphabetic", "titleAlign": "center"}},
            "y": {"field": "abs", "type": "quantitative", "scale": {"domain": [0, 5], "nice": false},
              "axis": {"values": [0, 1, 2, 3, 4, 5], "labelExpr": "datum.value <= 1 ? datum.label : ''", "labelPadding": 4, "title": "Normalized Abs.", "titleX": -40, "titleY": 227, "titleAngle": 270, "titleBaseline": "alphabetic", "titleAlign": "center"}},
            "color": {"field": "series", "type": "nominal",
              "scale": {"domain": ["2Me,CF3", "2Me,Me", "2Me,tBu", "1Me,Me"], "range": ["#1111dd", "#000000", "#cc0000", "#f47320"]},
              "legend": {"title": null, "orient": "none", "legendX": 275.2, "legendY": 21.4, "padding": 0, "symbolType": "stroke", "symbolSize": 1936, "symbolStrokeWidth": 2, "labelFont": "Liberation Sans", "labelFontSize": 34, "labelFontWeight": "bold", "labelOffset": 13, "rowPadding": 5.5, "labelExpr": "substring(datum.value, 0, 1)",
                "encode": {"labels": {"fill": {"condition": [{"test": "datum.value == '2Me,CF3'", "value": "#1111dd"}, {"test": "datum.value == '2Me,tBu'", "value": "#cc0000"}, {"test": "datum.value == '1Me,Me'", "value": "#f47320"}], "value": "#000000"}}}}},
            "strokeDash": {"field": "series", "type": "nominal",
              "scale": {"domain": ["2Me,CF3", "2Me,Me", "2Me,tBu", "1Me,Me"], "range": [[1, 0], [1, 0], [1, 0], [5, 4]]}}
          },
          "layer": [
            {"data": {"name": "ref"}, "mark": {"type": "line", "strokeWidth": 2}},
            {"data": {"name": "b"}, "mark": {"type": "line", "strokeWidth": 2}}
          ]
        },
        {
          "data": {"values": [{"sup": "1 Me,CF3"}, {"sup": "2 Me,Me"}, {"sup": "3 Me,𝙩Bu"}, {"sup": "4 Me,Me"}]},
          "mark": {"type": "point", "opacity": 0},
          "encoding": {
            "shape": {"field": "sup", "type": "nominal",
              "legend": {"title": null, "orient": "none", "legendX": 333.5, "legendY": 29.7, "padding": 0, "symbolSize": 1, "symbolOpacity": 0, "symbolStrokeWidth": 0, "labelFont": "Liberation Sans", "labelFontSize": 20, "labelFontWeight": "bold", "labelOffset": 0, "rowPadding": 24.5, "labelExpr": "substring(datum.value, 2)",
                "encode": {"labels": {"fill": {"condition": [{"test": "substring(datum.value, 0, 1) == '1'", "value": "#1111dd"}, {"test": "substring(datum.value, 0, 1) == '3'", "value": "#cc0000"}, {"test": "substring(datum.value, 0, 1) == '4'", "value": "#f47320"}], "value": "#000000"}}}}}
          }
        }
      ]
    }
  ]
}
